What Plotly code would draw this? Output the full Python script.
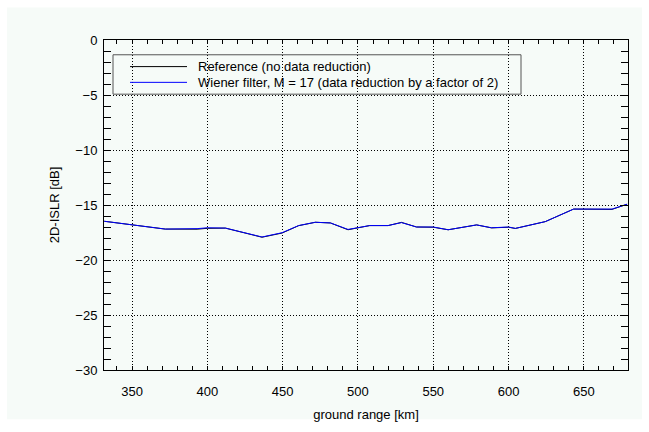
import plotly.graph_objects as go

# ground range [km]
ground_range = [331.6, 350.0, 372.1, 393.2, 400.0, 412.0, 436.3, 449.6, 460.6, 471.7,
                481.7, 493.4, 500.0, 507.8, 520.0, 528.9, 538.9, 550.0, 559.9, 578.8,
                588.7, 600.0, 604.5, 624.4, 643.2, 668.7, 678.7]
# 2D-ISLR [dB]
islr_reference = [-16.48, -16.78, -17.19, -17.20, -17.12, -17.10, -17.93, -17.55, -16.88, -16.57,
                  -16.63, -17.25, -17.05, -16.87, -16.87, -16.58, -17.00, -17.02, -17.25, -16.81,
                  -17.08, -17.02, -17.13, -16.51, -15.37, -15.40, -14.93]
islr_wiener = [-16.48, -16.78, -17.19, -17.15, -17.07, -17.10, -17.91, -17.52, -16.87, -16.57,
               -16.63, -17.22, -17.05, -16.87, -16.87, -16.60, -17.00, -17.00, -17.25, -16.81,
               -17.07, -17.00, -17.13, -16.51, -15.37, -15.37, -14.93]

legend_labels = ["Reference (no data reduction)",
                 "Wiener filter, M = 17 (data reduction by a factor of 2)"]
colors = ["#000000", "#0000ff"]

x_ticks = [350, 400, 450, 500, 550, 600, 650]
y_ticks = [0, -5, -10, -15, -20, -25, -30]

FONT = "Liberation Sans, Arial, sans-serif"
BG = "#f6fbf8"

fig = go.Figure()
fig.add_trace(go.Scatter(x=ground_range, y=islr_reference, mode="lines",
                         line=dict(color=colors[0], width=1), name=legend_labels[0],
                         showlegend=False))
fig.add_trace(go.Scatter(x=ground_range, y=islr_wiener, mode="lines",
                         line=dict(color=colors[1], width=1), name=legend_labels[1],
                         showlegend=False))

# plot area in pixels: x 104..628, y 40..375
L, R, T, B = 104, 628, 40, 375
W, H = R - L, B - T
def px(xp):
    return (xp - L) / W
def py(yp):
    return (B - yp) / H

shapes = []
# mint background frame
shapes.append(dict(type="rect", xref="paper", yref="paper", layer="below",
                   x0=px(7), x1=px(642), y0=py(425), y1=py(7),
                   fillcolor=BG, line=dict(width=0)))
# legend box
shapes.append(dict(type="rect", xref="paper", yref="paper",
                   x0=px(113), x1=px(521), y0=py(95), y1=py(55),
                   fillcolor="rgba(0,0,0,0)", line=dict(color="#555555", width=1)))
annotations = []
for i, (lab, col) in enumerate(zip(legend_labels, colors)):
    yy = 67 + i * 16
    shapes.append(dict(type="line", xref="paper", yref="paper",
                       x0=px(130), x1=px(187), y0=py(yy), y1=py(yy),
                       line=dict(color=col, width=1)))
    annotations.append(dict(text=lab, xref="paper", yref="paper",
                            x=px(196), y=py(yy), xanchor="left", yanchor="middle",
                            showarrow=False, font=dict(family=FONT, size=13, color="#000")))

axis_common = dict(
    showline=True, linecolor="black", linewidth=1, mirror="ticks",
    ticks="inside", tickcolor="black",
    showgrid=True, gridcolor="black", gridwidth=1, griddash="1px,2px",
    zeroline=False,
    tickfont=dict(family=FONT, size=13, color="#000"),
)

fig.update_xaxes(**axis_common, range=[331.4, 679.3], tickvals=x_ticks, ticklen=4,
                 minor=dict(dtick=10, tick0=0, ticks="inside", ticklen=4, tickcolor="black",
                            showgrid=False),
                 ticklabelstandoff=9,
                 title=dict(text="ground range [km]", standoff=12,
                            font=dict(family=FONT, size=13, color="#000")))
fig.update_yaxes(**axis_common, range=[-30, 0], tickvals=y_ticks, ticklen=7,
                 minor=dict(dtick=1, tick0=0, ticks="inside", ticklen=7, tickcolor="black",
                            showgrid=False),
                 ticklabelstandoff=3,
                 title=dict(text="2D-ISLR [dB]", standoff=12,
                            font=dict(family=FONT, size=13, color="#000")))

fig.update_layout(
    width=649, height=432,
    margin=dict(l=L, r=649 - R, t=T, b=432 - B, pad=0),
    paper_bgcolor="white", plot_bgcolor=BG,
    shapes=shapes, annotations=annotations,
    font=dict(family=FONT, size=13, color="#000"),
)

fig.write_html("out.html")
